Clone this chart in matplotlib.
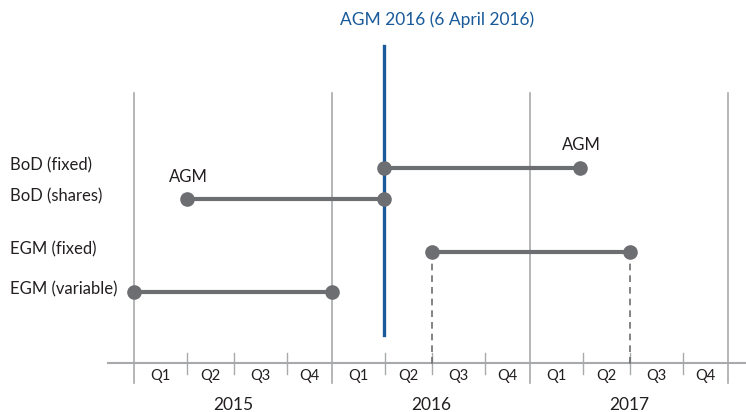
import matplotlib
matplotlib.use("Agg")
import matplotlib.pyplot as plt
from matplotlib.transforms import blended_transform_factory

plt.rcParams['font.family'] = ['Lato', 'DejaVu Sans']

# rows (top to bottom) and their periods, in fractional years
rows = ['BoD (fixed)', 'BoD (shares)', 'EGM (fixed)', 'EGM (variable)']
starts = [2016.26, 2015.265, 2016.505, 2015.0]
ends = [2017.25, 2016.26, 2017.505, 2016.0]

agm_date = 2016.26
agm_title = 'AGM 2016 (6 April 2016)'

years = [2015, 2016, 2017]
quarters = ['Q1', 'Q2', 'Q3', 'Q4']
# quarter boundaries within a year, as drawn in the original
quarter_starts = [0.0, 0.265, 0.505, 0.77]

# layout (y in pixels from the top)
row_y = [168, 199, 252, 292]
axis_y = 363

grey = '#6d6e71'
light = '#a7a9ac'
blue = '#1a5a9a'
txt = '#231f20'

fig = plt.figure(figsize=(7.46, 4.12), dpi=100)
ax = fig.add_axes([0, 0, 1, 1])
px0, per_year = 134.3, 198.0
ax.set_xlim(2015 - px0 / per_year, 2015 + (746 - px0) / per_year)
ax.set_ylim(412, 0)
ax.axis('off')

def px(x):
    return 2015 + (x - px0) / per_year

# year boundaries
for y in years + [years[-1] + 1]:
    ax.plot([y, y], [93, 383], color=light, lw=1.2, zorder=1)

# quarter ticks + labels
for y in years:
    bounds = [y + q for q in quarter_starts] + [y + 1]
    for i, q in enumerate(quarters):
        if i > 0:
            ax.plot([bounds[i], bounds[i]], [353, 374], color=light, lw=1.0, zorder=1)
        ax.text((bounds[i] + bounds[i + 1]) / 2, 376, q, ha='center', va='center',
                fontsize=10.5, color=txt)
    ax.text(y + 0.5, 404.5, str(y), ha='center', va='center', fontsize=12.5, color=txt)

# horizontal axis
ax.plot([px(108), px(746)], [axis_y, axis_y], color=light, lw=1.5, zorder=1)

# AGM 2016 marker line
ax.plot([agm_date, agm_date], [46, 335], color=blue, lw=2.4, zorder=3)
ax.text(px(340), 20, agm_title, ha='left', va='center', fontsize=12.5, color=blue)

# row labels
trans = blended_transform_factory(ax.transAxes, ax.transData)
for name, y in zip(rows, row_y):
    ax.text(10 / 746, y - 3, name, transform=trans, ha='left', va='center',
            fontsize=12, color=txt)

# period bars
for s, e, y in zip(starts, ends, row_y):
    ax.plot([s, e], [y, y], color=grey, lw=3, marker='o', markersize=9.5,
            solid_capstyle='butt', zorder=4)

# dashed drops for EGM (fixed)
i = rows.index('EGM (fixed)')
for x in (starts[i], ends[i]):
    ax.plot([x, x], [row_y[i], axis_y + 2], color=grey, lw=1.2, ls=(0, (4, 3)), zorder=2)

# AGM annotations
ax.text(starts[1] + 0.01, row_y[1] - 22, 'AGM', ha='center', va='center', fontsize=12, color=txt)
ax.text(ends[0] + 0.01, row_y[0] - 23, 'AGM', ha='center', va='center', fontsize=12, color=txt)

fig.savefig('out.png', dpi=100)
